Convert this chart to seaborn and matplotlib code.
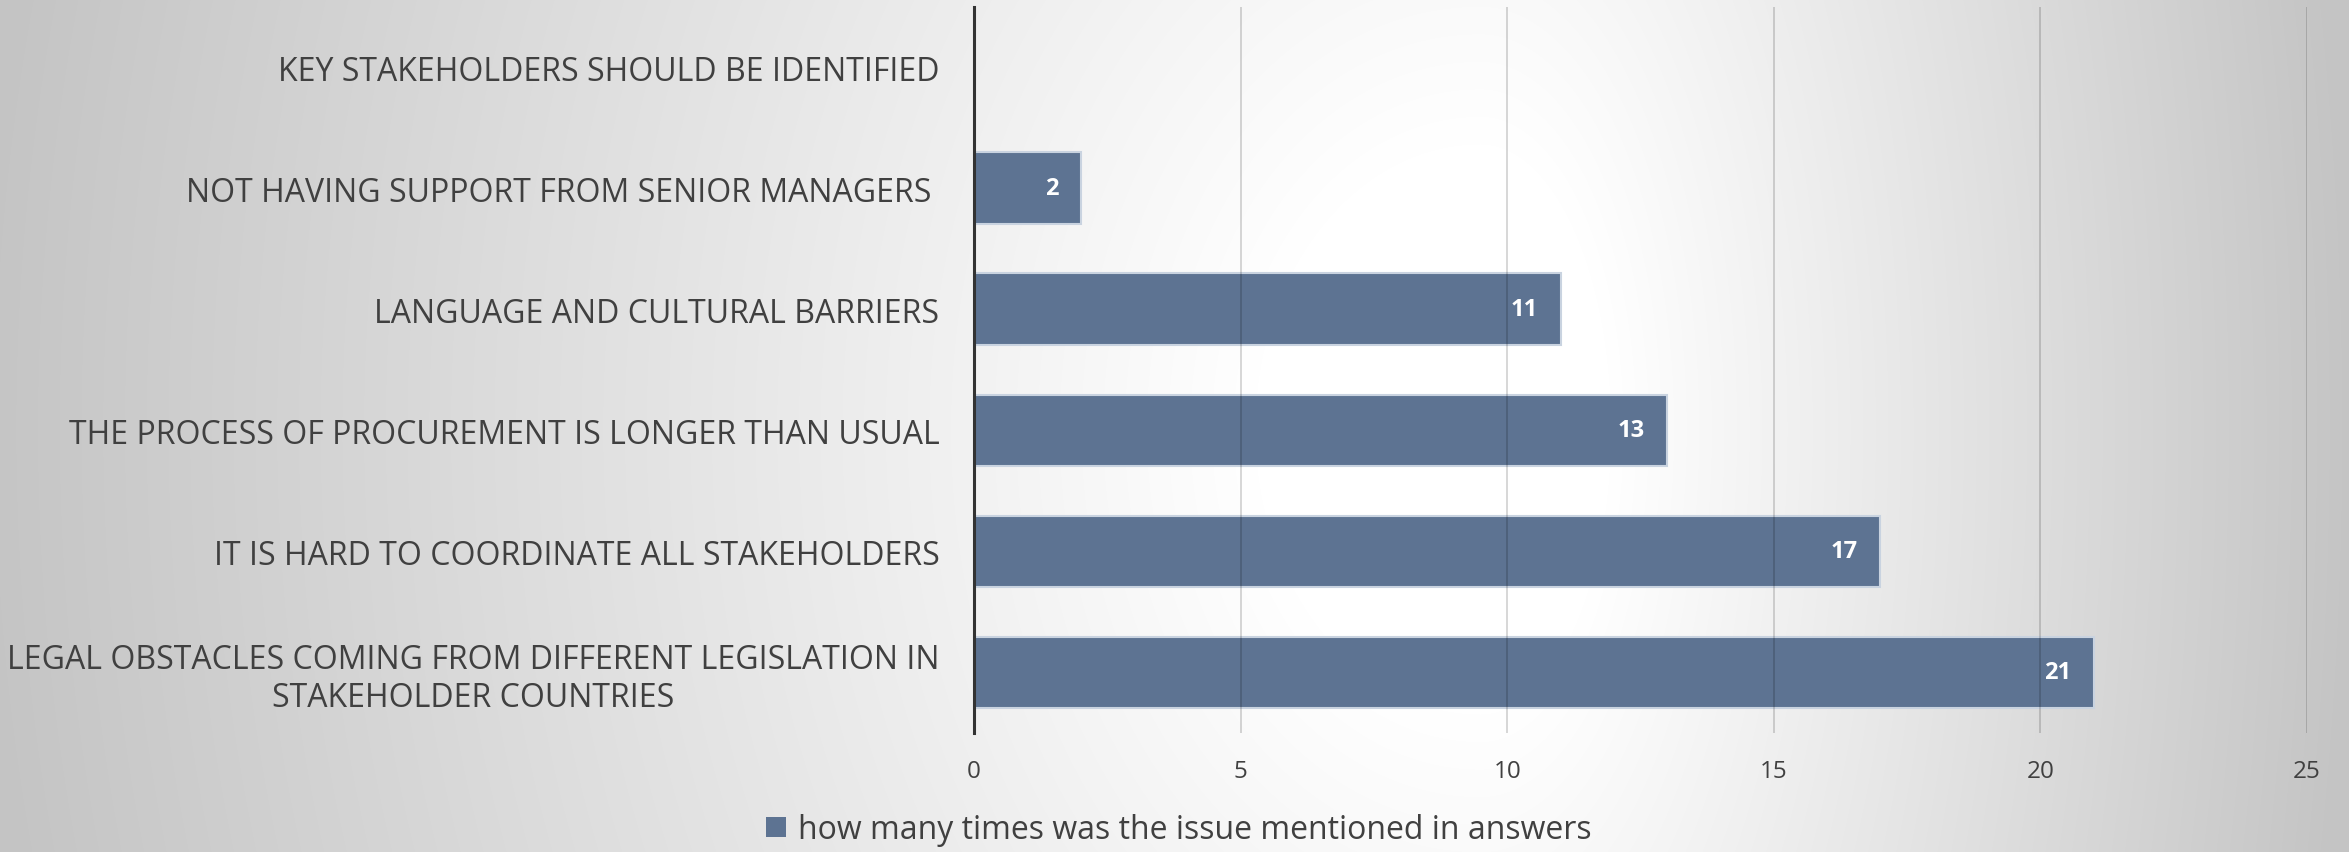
import numpy as np
import pandas as pd
import matplotlib
matplotlib.use("Agg")
import matplotlib.pyplot as plt
import matplotlib.patches as mpatches
import seaborn as sns

categories = [
    "KEY STAKEHOLDERS SHOULD BE IDENTIFIED",
    "NOT HAVING SUPPORT FROM SENIOR MANAGERS ",
    "LANGUAGE AND CULTURAL BARRIERS",
    "THE PROCESS OF PROCUREMENT IS LONGER THAN USUAL",
    "IT IS HARD TO COORDINATE ALL STAKEHOLDERS",
    "LEGAL OBSTACLES COMING FROM DIFFERENT LEGISLATION IN\nSTAKEHOLDER COUNTRIES",
]
values = [0, 2, 11, 13, 17, 21]
series_name = "how many times was the issue mentioned in answers"
x_ticks = [0, 5, 10, 15, 20, 25]

sns.set_theme(style="white")
plt.rcParams["font.family"] = ["Open Sans", "DejaVu Sans"]

W, H = 2349, 853
fig = plt.figure(figsize=(W / 100, H / 100), dpi=100)

# radial gradient background (continuous, asymmetric ellipse)
yy, xx = np.mgrid[0:H, 0:W].astype(float)
cx, cy = 1480.0, 430.0
dx = xx - cx
sx = np.where(dx < 0, 1500.0, 870.0)
dxs = dx / sx
dys = (yy - cy) / 1900.0
r = np.sqrt(dxs ** 2 + dys ** 2)
r0 = 0.15
t = np.clip((r - r0) / (1 - r0), 0, 1)
v = 1.0 - 0.23 * t
bg_ax = fig.add_axes([0, 0, 1, 1], zorder=-10)
bg_ax.imshow(np.dstack([v, v, v]), aspect="auto", extent=[0, 1, 0, 1])
bg_ax.axis("off")

ax = fig.add_axes([974 / W, 1 - 734 / H, (2307 - 974) / W, (734 - 7.5) / H])
ax.set_facecolor("none")

df = pd.DataFrame({"category": categories, "value": values})
sns.barplot(data=df, x="value", y="category", orient="h", color="#5d7392",
            width=0.59, saturation=1, ax=ax, zorder=2,
            edgecolor="#c9d3e0", linewidth=1.5)

ax.set_xlim(0, 25)
ax.set_ylim(5.5, -0.5)
ax.set_xticks(x_ticks)
ax.set_xticklabels([str(t) for t in x_ticks], fontsize=17.5, color="#404040")
ax.tick_params(axis="x", length=0, pad=19)
ax.tick_params(axis="y", length=0, pad=25)
for lab in ax.get_yticklabels():
    lab.set_fontsize(23)
    lab.set_color("#404040")
    lab.set_multialignment("center")
ax.set_xlabel("")
ax.set_ylabel("")
ax.set_axisbelow(False)
ax.grid(axis="x", color="black", alpha=0.17, linewidth=1.3)
for s in ["top", "right", "bottom"]:
    ax.spines[s].set_visible(False)
ax.spines["left"].set_color("#333333")
ax.spines["left"].set_linewidth(2.2)
ax.spines["left"].set_zorder(5)

for i, val in enumerate(values):
    if val > 0:
        ax.text(val - 0.42, i, str(val), ha="right", va="center", color="white",
                fontsize=17, fontweight="bold", zorder=6)

handle = mpatches.Patch(facecolor="#5d7392", edgecolor="none", label=series_name)
fig.legend(handles=[handle], loc="center", bbox_to_anchor=(0.502, 0.026),
           frameon=False, fontsize=23, handlelength=0.6, handleheight=0.6,
           handletextpad=0.4, labelcolor="#404040")

fig.savefig("out.png", dpi=100)
